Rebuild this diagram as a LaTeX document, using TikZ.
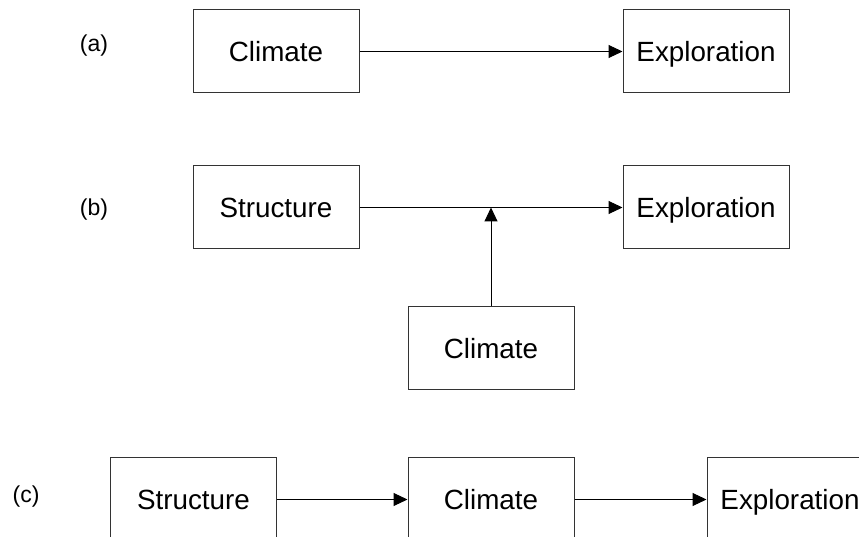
\documentclass[tikz,border=0pt]{standalone}
\usepackage{fontspec}
\setmainfont{Liberation Sans}
\usetikzlibrary{arrows.meta}

\begin{document}
\begin{tikzpicture}[
        x=1pt, y=1pt,
        box/.style={
            rectangle,
            draw=black!80,
            line width=1pt,
            minimum width=166pt,
            minimum height=83pt,
            inner sep=0pt,
            text height=20pt,
            text depth=0pt,
            font=\fontsize{27.8}{33}\selectfont,
        },
        tag/.style={
            font=\fontsize{23}{27}\selectfont,
        },
        link/.style={
            line width=1pt,
            -{Triangle[length=14pt,width=13pt]},
        },
    ]

    \clip (0, 0) rectangle (859, 537);

    % (a)
    \node[tag] (tagA)    at (94, 491)    {(a)};
    \node[box] (climA)   at (276, 485.5) {Climate};
    \node[box] (explA)   at (706, 485.5) {Exploration};

    \draw[link] (climA) -- (explA);

    % (b)
    \node[tag] (tagB)    at (94, 327)    {(b)};
    \node[box] (structB) at (276, 329.5) {Structure};
    \node[box] (explB)   at (706, 329.5) {Exploration};
    \node[box] (climB)   at (491, 188.5) {Climate};
    \coordinate (joinB) at (climB |- structB);

    \draw[link] (structB) -- (explB);
    \draw[link] (climB) -- (joinB);

    % (c)
    \node[tag] (tagC)    at (26, 40)     {(c)};
    \node[box] (structC) at (193.5, 37.5) {Structure};
    \node[box] (climC)   at (491, 37.5)  {Climate};
    \node[box] (explC)   at (790, 37.5)  {Exploration};

    \draw[link] (structC) -- (climC);
    \draw[link] (climC) -- (explC);

\end{tikzpicture}
\end{document}
